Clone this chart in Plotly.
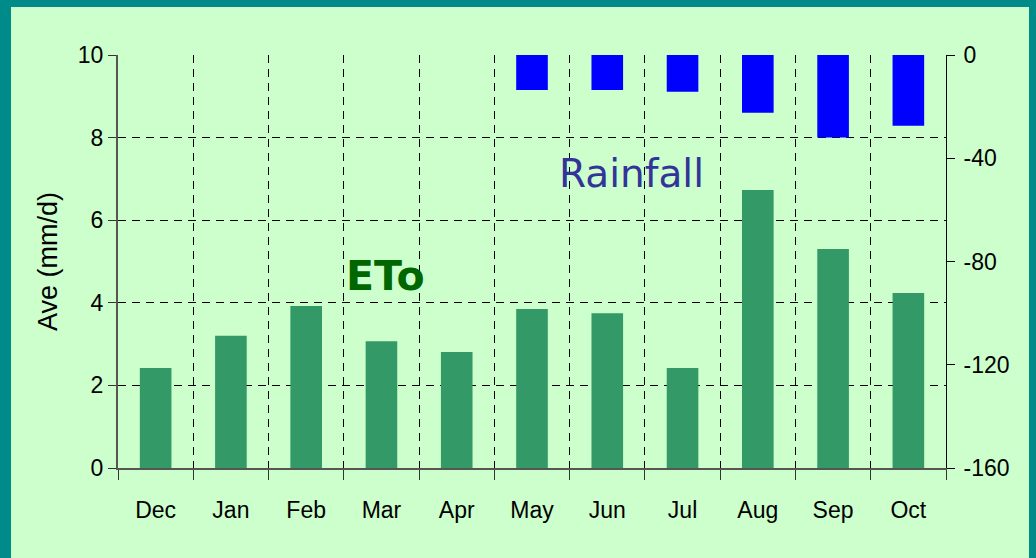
import plotly.graph_objects as go

months = ["Dec", "Jan", "Feb", "Mar", "Apr", "May", "Jun", "Jul", "Aug", "Sep", "Oct"]
eto = [2.42, 3.2, 3.92, 3.07, 2.81, 3.85, 3.75, 2.42, 6.73, 5.3, 4.24]
rainfall = [None, None, None, None, None, -13.6, -13.6, -14.2, -22.4, -32.0, -27.4]
left_ticks = [0, 2, 4, 6, 8, 10]
right_ticks = [-160, -120, -80, -40, 0]
right_tick_labels = ["-160", "-120", "-80", "-40", "0"]

pos = list(range(len(months)))
bounds = [p - 0.5 for p in pos] + [pos[-1] + 0.5]

W, H = 1036, 558
ML, MR, MT, MB = 118, 90, 55, 90
PW, PH = W - ML - MR, H - MT - MB

FONT = "Liberation Sans, Arial, sans-serif"
GREEN_BG = "#CCFFCC"
TEAL = "#008B8B"

fig = go.Figure()
fig.add_trace(go.Bar(x=pos, y=eto, width=0.42, marker=dict(color="#339966", line=dict(width=0)),
                     yaxis="y", name="ETo"))
fig.add_trace(go.Bar(x=pos, y=rainfall, width=0.42, marker=dict(color="#0000FF", line=dict(width=0)),
                     yaxis="y2", name="Rainfall"))

def px_x(p):
    return (p - ML) / PW

def px_y(p):
    return (H - MB - p) / PH

fig.add_shape(type="rect", xref="paper", yref="paper",
              x0=px_x(11), x1=px_x(1029), y0=px_y(H + 20), y1=px_y(7),
              fillcolor=GREEN_BG, line=dict(width=0), layer="below")

fig.add_annotation(x=3.06, y=4.65, xref="x", yref="y", text="ETo", showarrow=False,
                   font=dict(family="DejaVu Sans", size=41, color="#006600", weight="bold"))
fig.add_annotation(x=6.32, y=7.14, xref="x", yref="y", text="Rainfall", showarrow=False,
                   font=dict(family="DejaVu Sans", size=39, color="#333399"))

fig.update_layout(
    width=W, height=H,
    margin=dict(l=ML, r=MR, t=MT, b=MB, autoexpand=False),
    paper_bgcolor=TEAL,
    plot_bgcolor=GREEN_BG,
    barmode="overlay",
    showlegend=False,
    font=dict(family=FONT, size=23, color="black"),
    xaxis=dict(
        range=[-0.5, 10.5], tickmode="array", tickvals=pos, ticktext=months,
        ticks="", showgrid=False, zeroline=False, automargin=False,
        showline=True, linecolor="#555555", linewidth=2,
        ticklabelstandoff=20,
        minor=dict(tickmode="array", tickvals=bounds, ticks="outside", ticklen=10,
                   tickcolor="#333333", tickwidth=1,
                   showgrid=True, gridcolor="black", gridwidth=1, griddash="8px,6px"),
    ),
    yaxis=dict(
        range=[0, 10], tickmode="array", tickvals=left_ticks,
        ticks="outside", ticklen=8, tickcolor="#333333", automargin=False,
        showgrid=True, gridcolor="black", gridwidth=1, griddash="8px,6px",
        zeroline=False, showline=True, linecolor="#555555", linewidth=2,
        title=dict(text="Ave (mm/d)", font=dict(size=27), standoff=12),
    ),
    yaxis2=dict(
        range=[-160, 0], tickmode="array", tickvals=right_ticks, ticktext=right_tick_labels,
        overlaying="y", side="right", anchor="x", automargin=False,
        ticks="outside", ticklen=8, tickcolor="black",
        showgrid=False, zeroline=False, showline=True, linecolor="black", linewidth=1,
        ticklabelstandoff=4,
    ),
)

fig.write_html("out.html", config={"displayModeBar": False},
               post_script="document.body.style.margin='0';")
